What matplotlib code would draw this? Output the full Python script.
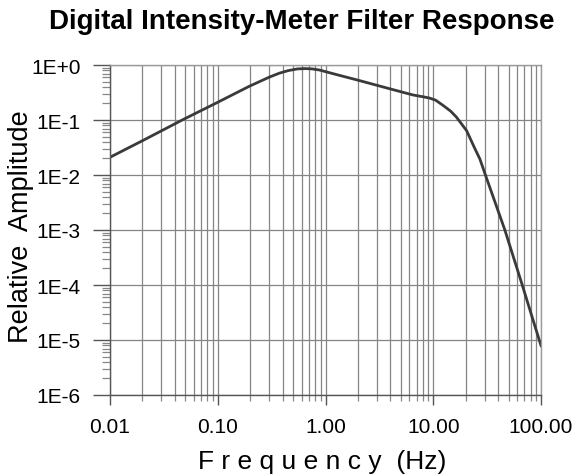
import matplotlib
matplotlib.use("Agg")
import matplotlib.pyplot as plt
from matplotlib.ticker import LogLocator, FixedLocator, NullFormatter

plt.rcParams['font.family'] = ['Liberation Sans', 'DejaVu Sans']

# Filter magnitude response (frequency in Hz, relative amplitude)
freq = [0.01, 0.02, 0.0468, 0.1, 0.196, 0.3, 0.373, 0.45, 0.55, 0.65, 0.75,
        0.88, 1.3, 1.93, 3.94, 6.49, 8.0, 9.27, 10.5, 12.3, 14.5, 16.4, 20.4,
        24.0, 27.1, 30.5, 46.2, 67.0, 85.0, 100.0]
amp = [0.021, 0.042, 0.1, 0.21, 0.41, 0.6, 0.71, 0.79, 0.85, 0.86, 0.85,
       0.81, 0.66, 0.54, 0.37, 0.285, 0.265, 0.25, 0.23, 0.185, 0.145, 0.113,
       0.064, 0.032, 0.0195, 0.01, 1.0e-3, 1.0e-4, 2.2e-5, 7.9e-6]

x_ticks = [0.01, 0.1, 1, 10, 100]
x_labels = ["0.01", "0.10", "1.00", "10.00", "100.00"]
y_ticks = [1e-6, 1e-5, 1e-4, 1e-3, 1e-2, 1e-1, 1]
y_labels = ["1E-6", "1E-5", "1E-4", "1E-3", "1E-2", "1E-1", "1E+0"]

W, H = 576, 477
fig = plt.figure(figsize=(W / 100, H / 100), dpi=100)
ax = fig.add_axes([110 / W, 1 - 396 / H, 431 / W, 330 / H])

ax.set_xscale('log')
ax.set_yscale('log')
ax.set_xlim(0.01, 100)
ax.set_ylim(1e-6, 1)

grid_col = '#858585'
ax.xaxis.set_major_locator(FixedLocator(x_ticks))
ax.xaxis.set_minor_locator(LogLocator(base=10, subs=range(2, 10), numticks=20))
ax.xaxis.set_minor_formatter(NullFormatter())
ax.set_xticklabels(x_labels)
ax.yaxis.set_major_locator(FixedLocator(y_ticks))
ax.yaxis.set_minor_locator(LogLocator(base=10, subs=range(2, 10), numticks=20))
ax.yaxis.set_minor_formatter(NullFormatter())
ax.set_yticklabels(y_labels)

ax.grid(True, which='major', axis='both', color=grid_col, lw=0.9)
ax.grid(True, which='minor', axis='x', color=grid_col, lw=0.9)

ax.tick_params(axis='both', which='major', direction='out', length=12,
               width=1.0, color='#555555', labelsize=15, pad=9)
ax.tick_params(axis='x', which='major', length=7, pad=9)
ax.tick_params(axis='x', which='minor', direction='out', length=4,
               width=0.9, color='#888888')
ax.tick_params(axis='y', which='minor', direction='out', length=6,
               width=0.9, color='#888888')

for side in ['top', 'right']:
    ax.spines[side].set_color('#9a9a9a')
    ax.spines[side].set_linewidth(1.0)
for side in ['left', 'bottom']:
    ax.spines[side].set_color('#555555')
    ax.spines[side].set_linewidth(1.0)

ax.plot(freq, amp, color='#3a3a3a', lw=2.0, solid_joinstyle='round')

fig.text(302 / W, 1 - 22 / H, "Digital Intensity-Meter Filter Response",
         ha='center', va='center', fontsize=20, fontweight='bold')
fig.text(322 / W, 1 - 462 / H, "F r e q u e n c y  (Hz)",
         ha='center', va='center', fontsize=19)
fig.text(21 / W, 1 - 227 / H, "Relative  Amplitude", rotation=90,
         ha='center', va='center', fontsize=19.5)

fig.savefig("out.png", dpi=100)
